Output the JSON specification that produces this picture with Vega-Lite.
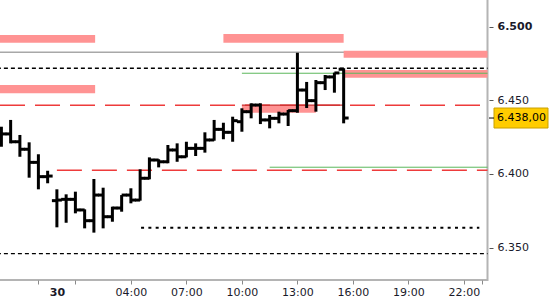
{
  "$schema": "https://vega.github.io/schema/vega-lite/v6.json",
  "autosize": {"type": "none"},
  "padding": {"left": -2, "top": -2, "right": 62.5, "bottom": 20},
  "width": 489.5,
  "height": 282,
  "background": "white",
  "config": {"view": {"stroke": "#b4b4b4", "strokeWidth": 2}},
  "datasets": {
    "ohlc": [
      {"t": "2024-01-29T21:00:00", "o": 6.4305, "h": 6.4321, "l": 6.4185, "c": 6.4272},
      {"t": "2024-01-29T21:30:00", "o": 6.4272, "h": 6.4367, "l": 6.4208, "c": 6.4219},
      {"t": "2024-01-29T22:00:00", "o": 6.4219, "h": 6.4265, "l": 6.4117, "c": 6.4168},
      {"t": "2024-01-29T22:30:00", "o": 6.4168, "h": 6.4215, "l": 6.3975, "c": 6.4079},
      {"t": "2024-01-29T23:00:00", "o": 6.4079, "h": 6.4134, "l": 6.3896, "c": 6.3982},
      {"t": "2024-01-29T23:30:00", "o": 6.3982, "h": 6.4022, "l": 6.3937, "c": 6.3986},
      {"t": "2024-01-30T00:00:00", "o": 6.3819, "h": 6.3896, "l": 6.3638, "c": 6.3823},
      {"t": "2024-01-30T00:30:00", "o": 6.3828, "h": 6.3862, "l": 6.3669, "c": 6.3828},
      {"t": "2024-01-30T01:00:00", "o": 6.3828, "h": 6.3880, "l": 6.3733, "c": 6.3756},
      {"t": "2024-01-30T01:30:00", "o": 6.3756, "h": 6.3760, "l": 6.3631, "c": 6.3683},
      {"t": "2024-01-30T02:00:00", "o": 6.3683, "h": 6.3966, "l": 6.3602, "c": 6.3857},
      {"t": "2024-01-30T02:30:00", "o": 6.3857, "h": 6.3907, "l": 6.3631, "c": 6.3710},
      {"t": "2024-01-30T03:00:00", "o": 6.3710, "h": 6.3778, "l": 6.3676, "c": 6.3769},
      {"t": "2024-01-30T03:30:00", "o": 6.3769, "h": 6.3857, "l": 6.3744, "c": 6.3857},
      {"t": "2024-01-30T04:00:00", "o": 6.3857, "h": 6.3903, "l": 6.3801, "c": 6.3823},
      {"t": "2024-01-30T04:30:00", "o": 6.3823, "h": 6.4032, "l": 6.3819, "c": 6.3971},
      {"t": "2024-01-30T05:00:00", "o": 6.3971, "h": 6.4113, "l": 6.3964, "c": 6.4095},
      {"t": "2024-01-30T05:30:00", "o": 6.4095, "h": 6.4100, "l": 6.4045, "c": 6.4083},
      {"t": "2024-01-30T06:00:00", "o": 6.4083, "h": 6.4197, "l": 6.4073, "c": 6.4163},
      {"t": "2024-01-30T06:30:00", "o": 6.4163, "h": 6.4208, "l": 6.4083, "c": 6.4117},
      {"t": "2024-01-30T07:00:00", "o": 6.4117, "h": 6.4219, "l": 6.4113, "c": 6.4174},
      {"t": "2024-01-30T07:30:00", "o": 6.4174, "h": 6.4208, "l": 6.4122, "c": 6.4174},
      {"t": "2024-01-30T08:00:00", "o": 6.4174, "h": 6.4283, "l": 6.4145, "c": 6.4231},
      {"t": "2024-01-30T08:30:00", "o": 6.4231, "h": 6.4367, "l": 6.4226, "c": 6.4303},
      {"t": "2024-01-30T09:00:00", "o": 6.4303, "h": 6.4348, "l": 6.4236, "c": 6.4283},
      {"t": "2024-01-30T09:30:00", "o": 6.4283, "h": 6.4389, "l": 6.4219, "c": 6.4362},
      {"t": "2024-01-30T10:00:00", "o": 6.4355, "h": 6.4446, "l": 6.4287, "c": 6.4423},
      {"t": "2024-01-30T10:30:00", "o": 6.4423, "h": 6.4480, "l": 6.4378, "c": 6.4468},
      {"t": "2024-01-30T11:00:00", "o": 6.4468, "h": 6.4480, "l": 6.4339, "c": 6.4367},
      {"t": "2024-01-30T11:30:00", "o": 6.4367, "h": 6.4401, "l": 6.4310, "c": 6.4378},
      {"t": "2024-01-30T12:00:00", "o": 6.4378, "h": 6.4423, "l": 6.4344, "c": 6.4407},
      {"t": "2024-01-30T12:30:00", "o": 6.4407, "h": 6.4435, "l": 6.4326, "c": 6.4430},
      {"t": "2024-01-30T13:00:00", "o": 6.4430, "h": 6.4823, "l": 6.4416, "c": 6.4570},
      {"t": "2024-01-30T13:30:00", "o": 6.4570, "h": 6.4625, "l": 6.4448, "c": 6.4498},
      {"t": "2024-01-30T14:00:00", "o": 6.4498, "h": 6.4638, "l": 6.4423, "c": 6.4620},
      {"t": "2024-01-30T14:30:00", "o": 6.4620, "h": 6.4672, "l": 6.4570, "c": 6.4659},
      {"t": "2024-01-30T15:00:00", "o": 6.4659, "h": 6.4688, "l": 6.4552, "c": 6.4686},
      {"t": "2024-01-30T15:30:00", "o": 6.4711, "h": 6.4718, "l": 6.4344, "c": 6.4380}
    ],
    "zones": [
      {"t": "2024-01-29T20:00:00", "t2": "2024-01-30T02:04:00", "lo": 6.4891, "hi": 6.4944},
      {"t": "2024-01-29T20:00:00", "t2": "2024-01-30T02:04:00", "lo": 6.4548, "hi": 6.4604},
      {"t": "2024-01-30T09:00:00", "t2": "2024-01-30T15:30:00", "lo": 6.4891, "hi": 6.4950},
      {"t": "2024-01-30T15:30:00", "t2": "2024-01-31T00:00:00", "lo": 6.4790, "hi": 6.4837},
      {"t": "2024-01-30T15:30:00", "t2": "2024-01-31T00:00:00", "lo": 6.4654, "hi": 6.4706},
      {"t": "2024-01-30T10:00:00", "t2": "2024-01-30T14:00:00", "lo": 6.4416, "hi": 6.4468}
    ],
    "levels": [
      {"t": "2024-01-29T20:00:00", "t2": "2024-01-31T00:00:00", "p": 6.4826, "kind": "gray"},
      {"t": "2024-01-29T20:00:00", "t2": "2024-01-31T00:00:00", "p": 6.4718, "kind": "blackdash"},
      {"t": "2024-01-29T20:00:00", "t2": "2024-01-31T00:00:00", "p": 6.3460, "kind": "blackdash"},
      {"t": "2024-01-30T10:00:00", "t2": "2024-01-31T00:00:00", "p": 6.4684, "kind": "green"},
      {"t": "2024-01-30T11:30:00", "t2": "2024-01-31T00:00:00", "p": 6.4046, "kind": "green"},
      {"t": "2024-01-29T20:55:30", "t2": "2024-01-31T00:00:00", "p": 6.4467, "kind": "reddash"},
      {"t": "2024-01-30T00:00:00", "t2": "2024-01-31T00:00:00", "p": 6.4025, "kind": "reddash"},
      {"t": "2024-01-30T10:00:00", "t2": "2024-01-30T15:30:00", "p": 6.4467, "kind": "redsolid"},
      {"t": "2024-01-30T04:33:00", "t2": "2024-01-30T22:50:00", "p": 6.3635, "kind": "dotted"}
    ],
    "last": [{"price": 6.438, "label": "6.438,00"}]
  },
  "layer": [
    {
      "data": {"name": "levels"},
      "transform": [{"filter": "datum.kind == 'gray'"}],
      "mark": {"type": "rule", "color": "#a8a8a8", "strokeWidth": 1.5, "clip": true},
      "encoding": {
        "x": {"field": "t", "type": "temporal", "title": null},
        "x2": {"field": "t2"},
        "y": {"field": "p", "type": "quantitative", "title": null}
      }
    },
    {
      "data": {"name": "zones"},
      "mark": {"type": "rect", "color": "#ff9393", "clip": true},
      "encoding": {
        "x": {"field": "t", "type": "temporal", "title": null},
        "x2": {"field": "t2"},
        "y": {"field": "lo", "type": "quantitative", "title": null},
        "y2": {"field": "hi"}
      }
    },
    {
      "data": {"name": "levels"},
      "transform": [{"filter": "datum.kind == 'green'"}],
      "mark": {"type": "rule", "color": "#5cb85c", "strokeWidth": 1, "clip": true},
      "encoding": {
        "x": {"field": "t", "type": "temporal", "title": null},
        "x2": {"field": "t2"},
        "y": {"field": "p", "type": "quantitative", "title": null}
      }
    },
    {
      "data": {"name": "levels"},
      "transform": [{"filter": "datum.kind == 'blackdash'"}],
      "mark": {"type": "rule", "color": "#000000", "strokeWidth": 1.3, "strokeDash": [4, 3], "clip": true},
      "encoding": {
        "x": {"field": "t", "type": "temporal", "title": null},
        "x2": {"field": "t2"},
        "y": {"field": "p", "type": "quantitative", "title": null}
      }
    },
    {
      "data": {"name": "levels"},
      "transform": [{"filter": "datum.kind == 'reddash'"}],
      "mark": {"type": "rule", "color": "#ee3b3b", "strokeWidth": 1.5, "strokeDash": [25, 10], "clip": true},
      "encoding": {
        "x": {"field": "t", "type": "temporal", "title": null},
        "x2": {"field": "t2"},
        "y": {"field": "p", "type": "quantitative", "title": null}
      }
    },
    {
      "data": {"name": "levels"},
      "transform": [{"filter": "datum.kind == 'redsolid'"}],
      "mark": {"type": "rule", "color": "#c83232", "strokeWidth": 1.3, "clip": true},
      "encoding": {
        "x": {"field": "t", "type": "temporal", "title": null},
        "x2": {"field": "t2"},
        "y": {"field": "p", "type": "quantitative", "title": null}
      }
    },
    {
      "data": {"name": "levels"},
      "transform": [{"filter": "datum.kind == 'dotted'"}],
      "mark": {"type": "rule", "color": "#000000", "strokeWidth": 2, "strokeDash": [3, 4.3], "clip": true},
      "encoding": {
        "x": {"field": "t", "type": "temporal", "title": null},
        "x2": {"field": "t2"},
        "y": {"field": "p", "type": "quantitative", "title": null}
      }
    },
    {
      "data": {"name": "ohlc"},
      "mark": {"type": "rule", "color": "#000000", "strokeWidth": 3},
      "encoding": {
        "x": {
          "field": "t", "type": "temporal", "title": null,
          "scale": {
            "domain": [
              {"year": 2024, "month": 1, "date": 29, "hours": 20, "minutes": 49},
              {"year": 2024, "month": 1, "date": 30, "hours": 23, "minutes": 16, "seconds": 32}
            ],
            "nice": false
          },
          "axis": {
            "title": null,
            "values": [
              {"year": 2024, "month": 1, "date": 29, "hours": 23},
              {"year": 2024, "month": 1, "date": 30, "hours": 0},
              {"year": 2024, "month": 1, "date": 30, "hours": 1},
              {"year": 2024, "month": 1, "date": 30, "hours": 4},
              {"year": 2024, "month": 1, "date": 30, "hours": 7},
              {"year": 2024, "month": 1, "date": 30, "hours": 10},
              {"year": 2024, "month": 1, "date": 30, "hours": 13},
              {"year": 2024, "month": 1, "date": 30, "hours": 16},
              {"year": 2024, "month": 1, "date": 30, "hours": 19},
              {"year": 2024, "month": 1, "date": 30, "hours": 22},
              {"year": 2024, "month": 1, "date": 30, "hours": 23}
            ],
            "labelExpr": "hours(datum.value) == 0 ? '' + date(datum.value) : ((hours(datum.value) >= 4 && hours(datum.value) % 3 == 1) ? timeFormat(datum.value, '%H:%M') : '')",
            "grid": false,
            "domain": false,
            "tickSize": 4,
            "tickColor": "#8a8a8a",
            "tickOpacity": {"condition": {"test": "hours(datum.value) == 0", "value": 0}, "value": 1},
            "labelFontWeight": {"condition": {"test": "hours(datum.value) == 0", "value": "bold"}, "value": "normal"},
            "labelPadding": 2,
            "labelFont": "DejaVu Sans",
            "labelFontSize": 11,
            "labelColor": "#1a1a2a",
            "labelOverlap": false,
            "labelFlush": false
          }
        },
        "y": {
          "field": "l", "type": "quantitative", "title": null,
          "scale": {"domain": [6.32804, 6.51948], "nice": false, "zero": false},
          "axis": {
            "title": null,
            "orient": "right",
            "values": [6.35, 6.4, 6.45, 6.5],
            "format": ".3f",
            "grid": false,
            "domain": false,
            "tickSize": 4,
            "offset": 1.5,
            "labelPadding": 4,
            "tickColor": "#555555",
            "labelFont": "DejaVu Sans",
            "labelFontSize": 11,
            "labelColor": "#1a1a2a",
            "labelFontWeight": {"condition": {"test": "datum.value == 6.5", "value": "bold"}, "value": "normal"}
          }
        },
        "y2": {"field": "h"}
      }
    },
    {
      "data": {"name": "ohlc"},
      "mark": {"type": "tick", "orient": "horizontal", "color": "#000000", "size": 5, "thickness": 3, "xOffset": -2.5, "opacity": 1},
      "encoding": {
        "x": {"field": "t", "type": "temporal", "title": null},
        "y": {"field": "o", "type": "quantitative", "title": null}
      }
    },
    {
      "data": {"name": "ohlc"},
      "mark": {"type": "tick", "orient": "horizontal", "color": "#000000", "size": 5, "thickness": 3, "xOffset": 2.5, "opacity": 1},
      "encoding": {
        "x": {"field": "t", "type": "temporal", "title": null},
        "y": {"field": "c", "type": "quantitative", "title": null}
      }
    },
    {
      "data": {"name": "last"},
      "mark": {"type": "point", "shape": "M6.5,-10H60.5V10H6.5Z", "size": 4, "filled": true, "fill": "#ffcc00", "stroke": "#c9a100", "strokeWidth": 1, "opacity": 1, "clip": false},
      "encoding": {
        "x": {"value": "width"},
        "y": {"field": "price", "type": "quantitative", "title": null}
      }
    },
    {
      "data": {"name": "last"},
      "mark": {"type": "point", "shape": "M1.5,-0.5H6.5V0.5H1.5Z", "size": 4, "filled": true, "fill": "#000000", "strokeWidth": 0, "opacity": 1, "clip": false},
      "encoding": {
        "x": {"value": "width"},
        "y": {"field": "price", "type": "quantitative", "title": null}
      }
    },
    {
      "data": {"name": "last"},
      "mark": {"type": "text", "align": "left", "baseline": "middle", "dx": 9.5, "font": "DejaVu Sans", "fontSize": 11, "color": "#000000", "clip": false},
      "encoding": {
        "x": {"value": "width"},
        "y": {"field": "price", "type": "quantitative", "title": null},
        "text": {"field": "label"}
      }
    }
  ]
}
